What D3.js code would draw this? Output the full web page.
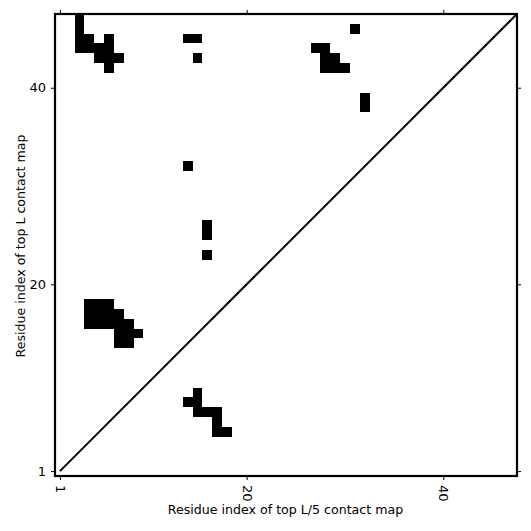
<!DOCTYPE html>
<html>
<head>
<meta charset="utf-8">
<script src="https://cdn.jsdelivr.net/npm/d3@7"></script>
<style>
  html, body { margin: 0; padding: 0; background: #fff; }
  svg { display: block; font-family: "DejaVu Sans", sans-serif; }
</style>
</head>
<body>
<svg id="chart" width="531" height="531"></svg>
<script>
// Residue count
const nResidues = 47;
// Top L contacts (upper-left triangle): residue index pairs
const topLx = [3, 3,31, 3,4,6,14,15, 3,4,5,6,27,28, 5,6,7,15,28,29, 6,28,29,30, 32, 32, 14, 16, 16, 16, 4,5,6, 4,5,6,7, 4,5,6,7,8, 7,8,9, 7,8];
const topLy = [47, 46,46, 45,45,45,45,45, 44,44,44,44,44,44, 43,43,43,43,43,43, 42,42,42,42, 39, 38, 32, 26, 25, 23, 18,18,18, 17,17,17,17, 16,16,16,16,16, 15,15,15, 14,14];
// Top L/5 contacts (lower-right triangle)
const topL5x = [15, 14,15, 15,16,17, 17, 17,18];
const topL5y = [9, 8,8, 7,7,7, 6, 5,5];
// Tick labels
const tickValues = [1, 20, 40];
const xTitle = "Residue index of top L/5 contact map";
const yTitle = "Residue index of top L contact map";

const svg = d3.select("#chart");
const mLeft = 55, mRight = 517, mTop = 14, mBottom = 476;

const x = d3.scaleLinear().domain([0.5, nResidues + 0.5]).range([mLeft, mRight]);
const y = d3.scaleLinear().domain([0.5, nResidues + 0.5]).range([mBottom, mTop]);

const cells = topLx.map((v, k) => ({i: v, j: topLy[k]}))
  .concat(topL5x.map((v, k) => ({i: v, j: topL5y[k]})));

svg.append("g").selectAll("rect").data(cells).join("rect")
  .attr("x", d => x(d.i - 0.5))
  .attr("y", d => y(d.j + 0.5))
  .attr("width", d => x(d.i + 0.5) - x(d.i - 0.5))
  .attr("height", d => y(d.j - 0.5) - y(d.j + 0.5))
  .attr("fill", "#000")
  .attr("shape-rendering", "crispEdges");

// Diagonal
svg.append("line")
  .attr("x1", x(1)).attr("y1", y(1))
  .attr("x2", x(nResidues + 0.5)).attr("y2", y(nResidues + 0.5))
  .attr("stroke", "#000").attr("stroke-width", 2);

// Axes
const fontSize = 13;
const titleSize = 12.6;
const xAxis = svg.append("g").attr("transform", `translate(0,${mBottom})`)
  .call(d3.axisBottom(x).tickValues(tickValues).tickSize(4).tickPadding(4));
xAxis.selectAll("text")
  .attr("transform", "rotate(90)")
  .attr("x", 9).attr("y", 0).attr("dy", "0.35em")
  .style("text-anchor", "start");

svg.append("g").attr("transform", `translate(${mLeft},0)`)
  .call(d3.axisLeft(y).tickValues(tickValues).tickSize(4).tickPadding(5));

svg.append("g").attr("transform", `translate(0,${mTop})`)
  .call(d3.axisTop(x).tickValues(tickValues).tickSize(4).tickFormat(""));
svg.append("g").attr("transform", `translate(${mRight},0)`)
  .call(d3.axisRight(y).tickValues(tickValues).tickSize(4).tickFormat(""));

svg.selectAll(".domain").remove();
svg.selectAll(".tick line").attr("stroke", "#000").attr("stroke-width", 1);
svg.selectAll(".tick text").attr("fill", "#000")
  .style("font-size", fontSize + "px").style("font-family", "DejaVu Sans, sans-serif");

// Frame
svg.append("rect")
  .attr("x", mLeft).attr("y", mTop)
  .attr("width", mRight - mLeft).attr("height", mBottom - mTop)
  .attr("fill", "none").attr("stroke", "#000").attr("stroke-width", 2.2);

// Titles
svg.append("text")
  .attr("x", (mLeft + mRight) / 2 - 0.5).attr("y", 514)
  .attr("text-anchor", "middle")
  .style("font-size", titleSize + "px")
  .text(xTitle);
svg.append("text")
  .attr("transform", `translate(25,${(mTop + mBottom) / 2 + 1}) rotate(-90)`)
  .attr("text-anchor", "middle")
  .style("font-size", titleSize + "px")
  .text(yTitle);
</script>
</body>
</html>
